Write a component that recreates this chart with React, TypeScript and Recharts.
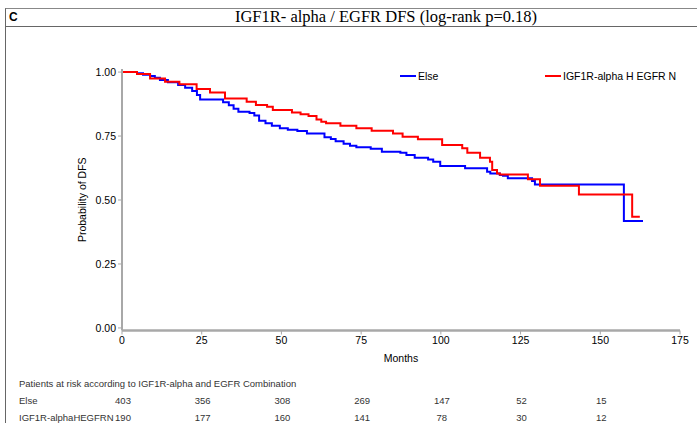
import { LineChart, Line, XAxis, YAxis, Legend } from 'recharts';

// Kaplan-Meier step points (months, survival)
const elseMonths = [0, 4.7, 6.6, 8.8, 10.3, 11.9, 14.4, 17.6, 19.8, 22.0, 23.5, 24.5, 31.7, 33.5, 35, 36.5, 40, 41.5, 43, 45, 47, 49.5, 52, 55, 58, 63.5, 65.5, 67, 69.5, 71.5, 73.5, 78, 81.5, 87.3, 89.2, 91.8, 96, 97.6, 99.8, 107.6, 114.5, 115.5, 118.5, 119.5, 121, 128.6, 129.5, 157.4, 163.4];
const elseSurv = [1.0, 0.995, 0.99, 0.985, 0.978, 0.969, 0.96, 0.949, 0.939, 0.926, 0.91, 0.893, 0.882, 0.87, 0.857, 0.845, 0.84, 0.83, 0.81, 0.8, 0.79, 0.78, 0.775, 0.77, 0.76, 0.745, 0.738, 0.73, 0.72, 0.712, 0.706, 0.7, 0.689, 0.685, 0.676, 0.665, 0.658, 0.65, 0.633, 0.624, 0.61, 0.604, 0.598, 0.595, 0.585, 0.574, 0.561, 0.418, 0.418];

const igfMonths = [0, 4.7, 8.8, 13.5, 18, 23.4, 27.6, 32.3, 39.1, 42, 45.5, 47.3, 53.3, 56, 58.5, 61, 62.5, 64, 68.5, 73.5, 78.3, 85, 88, 92.8, 100.4, 106.7, 108.3, 112.3, 115.4, 116.1, 117.6, 118.5, 127.3, 131.1, 143.3, 160, 162.4];
const igfSurv = [1.0, 0.992, 0.975, 0.962, 0.952, 0.934, 0.92, 0.897, 0.884, 0.871, 0.864, 0.852, 0.842, 0.835, 0.828, 0.815, 0.806, 0.8, 0.79, 0.78, 0.771, 0.76, 0.747, 0.737, 0.715, 0.702, 0.685, 0.665, 0.65, 0.617, 0.604, 0.6, 0.581, 0.556, 0.522, 0.435, 0.435];

const xTicks = [0, 25, 50, 75, 100, 125, 150, 175];
const yTicks = [0, 0.25, 0.5, 0.75, 1];

const riskMonths = [0, 25, 50, 75, 100, 125, 150];
const riskElse = [403, 356, 308, 269, 147, 52, 15];
const riskIgf = [190, 177, 160, 141, 78, 30, 12];

const elseData = elseMonths.map((t, i) => ({ t, s: elseSurv[i] }));
const igfData = igfMonths.map((t, i) => ({ t, s: igfSurv[i] }));

const FONT = 'Arial, "Liberation Sans", sans-serif';
const PLOT_LEFT = 122;
const PLOT_RIGHT = 680;
const legendLeft = [400, 545];

const monthToX = (m: number) => PLOT_LEFT + (m / 175) * (PLOT_RIGHT - PLOT_LEFT);

function renderLegend(props: any) {
  const payload = props.payload || [];
  return (
    <div style={{ position: 'relative', width: 697, height: 14, fontFamily: FONT, fontSize: 10.5, color: '#000' }}>
      {payload.map((p: any, i: number) => (
        <div key={p.value} style={{ position: 'absolute', left: legendLeft[i], top: 0, display: 'flex', alignItems: 'center', whiteSpace: 'nowrap' }}>
          <span style={{ display: 'inline-block', width: 16, height: 2, background: p.color, marginRight: 2 }} />
          <span>{p.value}</span>
        </div>
      ))}
    </div>
  );
}

export default function App() {
  const tableText = { fontFamily: FONT, fontSize: 9.5, color: '#333' };
  return (
    <div style={{ position: 'absolute', left: 0, top: 0, width: 697, height: 423, overflow: 'hidden', background: '#fff' }}>
      {/* frame + title row */}
      <div style={{ position: 'absolute', left: 5, top: 8, width: 700, height: 420, borderTop: '1px solid #888', borderLeft: '1px solid #666' }} />
      <div style={{ position: 'absolute', left: 5, top: 26, width: 700, borderTop: '1px solid #666' }} />
      <div style={{ position: 'absolute', left: 9, top: 10, fontFamily: FONT, fontWeight: 'bold', fontSize: 12 }}>C</div>
      <div style={{ position: 'absolute', left: 386, top: 7, transform: 'translateX(-50%)', whiteSpace: 'nowrap', fontFamily: '"Liberation Serif", "Times New Roman", serif', fontSize: 16.5, lineHeight: '19px' }}>
        IGF1R- alpha / EGFR DFS (log-rank p=0.18)
      </div>

      <div style={{ position: 'absolute', left: 0, top: 0 }}>
        <LineChart width={697} height={423} margin={{ top: 69, right: 17, bottom: 62.5, left: 0 }}>
          <XAxis
            dataKey="t"
            type="number"
            domain={[0, 175]}
            ticks={xTicks}
            allowDataOverflow
            height={30}
            axisLine={{ stroke: '#a8a8a8', strokeWidth: 2.5 }}
            tickLine={{ stroke: '#a8a8a8' }}
            tickSize={4}
            tick={{ fill: '#000', fontSize: 10.5, fontFamily: FONT }}
            label={{ value: 'Months', position: 'bottom', offset: -6, style: { fill: '#000', fontSize: 10.5, fontFamily: FONT } }}
          />
          <XAxis xAxisId="top" orientation="top" type="number" domain={[0, 175]} height={0} tick={false} tickLine={false} axisLine={{ stroke: '#666' }} />
          <YAxis
            type="number"
            domain={[-0.01, 1.012]}
            ticks={yTicks}
            allowDataOverflow
            width={122}
            axisLine={{ stroke: '#a8a8a8', strokeWidth: 2 }}
            tickLine={{ stroke: '#a8a8a8' }}
            tickSize={4}
            tickFormatter={(v: number) => v.toFixed(2)}
            tick={{ fill: '#000', fontSize: 10.5, fontFamily: FONT }}
            label={{ value: 'Probability of DFS', angle: -90, position: 'insideLeft', offset: 82, style: { textAnchor: 'middle', fill: '#000', fontSize: 10.5, fontFamily: FONT } }}
          />
          <YAxis yAxisId="right" orientation="right" type="number" domain={[0, 1]} width={0} tick={false} tickLine={false} axisLine={{ stroke: '#666' }} />
          <Legend
            layout="horizontal"
            verticalAlign="middle"
            align="center"
            wrapperStyle={{ position: 'absolute', top: 70, left: 0, width: 697 }}
            content={renderLegend}
          />
          <Line data={elseData} dataKey="s" name="Else" type="stepAfter" stroke="#0000ff" strokeWidth={2} dot={false} isAnimationActive={false} />
          <Line data={igfData} dataKey="s" name="IGF1R-alpha H EGFR N" type="stepAfter" stroke="#ff0000" strokeWidth={2} dot={false} isAnimationActive={false} />
        </LineChart>
      </div>

      {/* at-risk table */}
      <div style={{ ...tableText, position: 'absolute', left: 19, top: 378, whiteSpace: 'nowrap' }}>
        Patients at risk according to IGF1R-alpha and EGFR Combination
      </div>
      <div style={{ ...tableText, position: 'absolute', left: 19, top: 395 }}>Else</div>
      <div style={{ ...tableText, position: 'absolute', left: 19, top: 412 }}>IGF1R-alphaHEGFRN</div>
      {riskMonths.map((m, i) => (
        <div key={'e' + m} style={{ ...tableText, position: 'absolute', left: monthToX(m) + 1, top: 395, transform: 'translateX(-50%)' }}>{riskElse[i]}</div>
      ))}
      {riskMonths.map((m, i) => (
        <div key={'g' + m} style={{ ...tableText, position: 'absolute', left: monthToX(m) + 1, top: 412, transform: 'translateX(-50%)' }}>{riskIgf[i]}</div>
      ))}
    </div>
  );
}
